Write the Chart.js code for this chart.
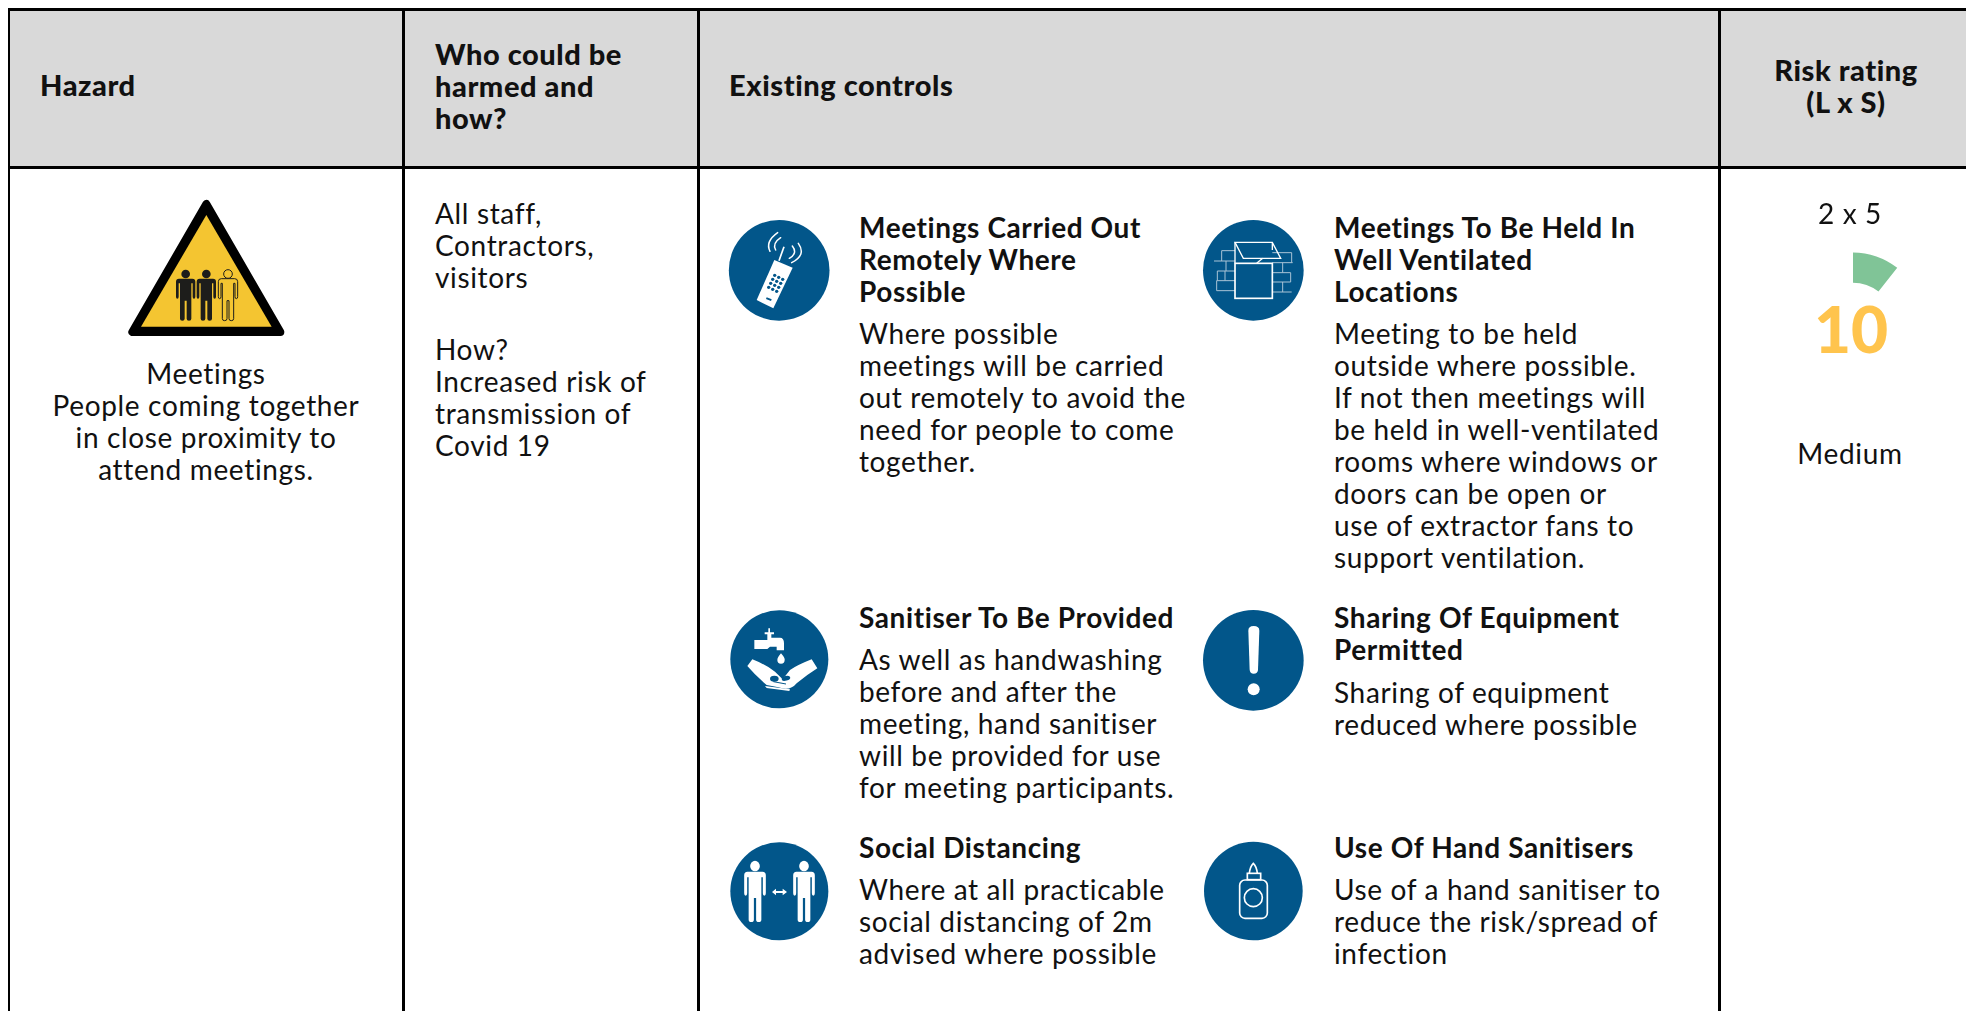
<!DOCTYPE html>
<html lang="en">
<head>
<meta charset="UTF-8">
<title>Risk assessment</title>
<script src="https://cdn.jsdelivr.net/npm/chart.js"></script>
<style>
  html, body { margin: 0; background: #fff; }
  #page { position: relative; width: 1966px; height: 1011px; overflow: hidden; font-family: Lato, sans-serif; color: #111; }
  .line { position: absolute; background: #000; }
  .head { position: absolute; background: #d9d9d9; }
  .t { position: absolute; white-space: pre; font-size: 28px; line-height: 32px; letter-spacing: .65px; }
  .title { font-weight: 700; letter-spacing: .6px; }
  .hdr { font-weight: 900; font-size: 29px; letter-spacing: .55px; }
  .c { text-align: center; transform: translateX(-50%); }
  svg { position: absolute; }
</style>
</head>
<body>
<div id="page">
  <div class="head" style="left:9px;top:10px;width:1957px;height:157px"></div>
  <div class="line" style="left:8px;top:8px;width:1958px;height:3px"></div>
  <div class="line" style="left:8px;top:166px;width:1958px;height:3px"></div>
  <div class="line" style="left:8px;top:8px;width:2px;height:1003px"></div>
  <div class="line" style="left:402px;top:8px;width:3px;height:1003px"></div>
  <div class="line" style="left:697px;top:8px;width:3px;height:1003px"></div>
  <div class="line" style="left:1718px;top:8px;width:3px;height:1003px"></div>

  <!-- Hazard sign -->
  <svg style="left:100px;top:180px" width="220" height="180" viewBox="0 0 660 540">
    <polygon points="319,72 97,456 541,456" fill="#000" stroke="#000" stroke-width="24" stroke-linejoin="round"/>
    <polygon points="319,105 123,440 515,440" fill="#f4c531"/>
    <g fill="#1d1d1b">
      <g transform="translate(257,296)"><circle cy="-14" r="13"/><path id="man" d="M-20,0 H20 Q29,0 29,9 V54 Q29,60 25,60 Q21,60 21,54 V14 H17 V120 Q17,126 10,126 Q3,126 3,120 V66 H-3 V120 Q-3,126 -10,126 Q-17,126 -17,120 V14 H-21 V54 Q-21,60 -25,60 Q-29,60 -29,54 V9 Q-29,0 -20,0Z"/></g>
      <g transform="translate(319,296)"><circle cy="-14" r="13"/><use href="#man"/></g>
    </g>
    <g transform="translate(384,296)" fill="#f4c531" stroke="#1d1d1b" stroke-width="3"><circle cy="-14" r="13"/><use href="#man"/></g>
  </svg>

  <!-- Phone icon -->
  <svg style="left:710px;top:200px" width="130" height="130" viewBox="0 0 390 390">
    <circle cx="207.5" cy="211" r="151" fill="#02568a"/>
    <polygon points="193,180 248,203 190,325 140,300" fill="#fff"/>
    <path d="M207,182 L222,140" stroke="#fff" stroke-width="5"/>
    <g fill="none" stroke="#fff" stroke-width="4.5" stroke-linecap="round">
      <path d="M203,98 Q165,125 180,154"/>
      <path d="M212,113 Q186,130 197,150"/>
      <path d="M265,130 Q290,165 245,188"/>
      <path d="M247,138 Q264,160 238,175"/>
    </g>
    <g fill="#02568a">
      <circle cx="194" cy="226" r="5"/><circle cx="206" cy="232" r="5"/><circle cx="218" cy="238" r="5"/>
      <circle cx="188" cy="238" r="5"/><circle cx="200" cy="244" r="5"/><circle cx="212" cy="250" r="5"/>
      <circle cx="182" cy="250" r="5"/><circle cx="194" cy="256" r="5"/><circle cx="206" cy="262" r="5"/>
      <circle cx="176" cy="262" r="5"/><circle cx="188" cy="268" r="5"/><circle cx="200" cy="274" r="5"/>
      <polygon points="170,292 185,298 183,303 168,297"/>
    </g>
  </svg>

  <!-- Window icon -->
  <svg style="left:1190px;top:210px" width="130" height="120" viewBox="0 0 390 360">
    <circle cx="190" cy="181" r="151" fill="#02568a"/>
    <g fill="none" stroke="#a9c4d6" stroke-width="3">
      <path d="M95,122 H135 M72,153 H135 M82,183 H135 M80,212 H135 M80,242 H135 M95,122 V153 M108,153 V183 M82,183 V212 M105,183 V212 M80,212 V242"/>
      <path d="M247,128 H305 M247,158 H308 M247,188 H302 M247,216 H302 M247,246 H305 M305,128 V158 M278,158 V188 M302,188 V216 M278,216 V246"/>
    </g>
    <g fill="none" stroke="#fff" stroke-width="4">
      <rect x="135" y="160" width="112" height="105" stroke-width="5"/>
      <polygon points="135,97 247,97 272,145 160,145"/>
      <path d="M200,160 L218,145"/>
      <path d="M135,97 V160 M247,97 V120"/>
    </g>
  </svg>

  <!-- Hand washing icon -->
  <svg style="left:710px;top:600px" width="130" height="110" viewBox="0 0 390 330">
    <circle cx="208" cy="178" r="147" fill="#02568a"/>
    <g fill="#fff">
      <path d="M133,120 H172 V103 H164 V97 H175 V85 H180 V97 H192 V103 H184 V113 H210 Q222,113 222,130 V151 H200 V140 H180 L172,147 H133Z"/>
      <path d="M213,160 Q226,175 224,180 A11,11 0 0 1 202,180 Q202,172 213,160Z"/>
      <path d="M112,198 L127,178 Q170,195 195,215 L218,238 L240,210 Q262,195 305,178 L322,205 Q290,225 260,250 Q240,275 205,262 L170,255 Q135,225 112,198Z"/>
      <path d="M165,258 L240,268 L238,273 L170,264Z"/>
    </g>
    <g fill="#02568a">
      <ellipse cx="193" cy="236" rx="13" ry="9"/>
      <ellipse cx="228" cy="235" rx="13" ry="7" transform="rotate(-15 228 235)"/>
      <path d="M190,245 L228,252" stroke="#02568a" stroke-width="3"/>
    </g>
  </svg>

  <!-- Social distancing icon -->
  <svg style="left:710px;top:830px" width="130" height="120" viewBox="0 0 390 360">
    <circle cx="208" cy="184" r="147" fill="#02568a"/>
    <g fill="#fff">
      <g transform="translate(135,125) scale(1.12,1.2)"><circle cy="-14" r="13"/><use href="#man"/></g>
      <g transform="translate(282,125) scale(1.12,1.2)"><circle cy="-14" r="13"/><use href="#man"/></g>
    </g>
    <path d="M186,186 L198,176 V183 H218 V176 L231,186 L218,196 V189 H198 V196Z" fill="#fff"/>
  </svg>

  <!-- Exclamation and bottle icons -->
  <svg style="left:1190px;top:600px" width="130" height="350" viewBox="0 0 390 1050">
    <circle cx="190" cy="181" r="151" fill="#02568a"/>
    <path d="M175,92 Q175,78 191,78 Q208,78 208,92 L204,210 Q203,221 191,221 Q180,221 179,210Z" fill="#fff"/>
    <circle cx="191" cy="268" r="18" fill="#fff"/>
    <circle cx="190" cy="873" r="148" fill="#02568a"/>
    <g fill="none" stroke="#fff" stroke-width="5">
      <rect x="149" y="840" width="83" height="115" rx="16"/>
      <circle cx="190" cy="893" r="27"/>
      <rect x="172" y="820" width="40" height="19"/>
      <path d="M178,820 Q180,800 190,790 Q200,800 202,820"/>
    </g>
  </svg>

  <!-- Risk rating gauge -->
  <canvas id="gauge" width="144" height="144" style="position:absolute;left:1781px;top:252px"></canvas>
  <div id="score" class="t c" style="left:1851px;top:290px;font-size:64px;line-height:78px;font-weight:900;letter-spacing:0;color:#ffc44d"></div>
  <div id="texts"></div>
</div>

<script>
  // gauge: visible slice, then the rest of the circle left blank
  const gaugeValues = [10, 84.2];
  const gaugeColors = ['#80c497', 'rgba(0,0,0,0)'];
  const scoreText = '10';

  const headers = [
    ['Hazard', 40, 69, false],
    ['Who could be\nharmed and\nhow?', 435, 38, false],
    ['Existing controls', 729, 69, false],
    ['Risk rating\n(L x S)', 1846, 54, true]
  ];

  const bodyTexts = [
    ['Meetings\nPeople coming together\nin close proximity to\nattend meetings.', 206, 357, true],
    ['All staff,\nContractors,\nvisitors', 435, 197, false],
    ['How?\nIncreased risk of\ntransmission of\nCovid 19', 435, 333, false],
    ['2 x 5', 1850, 197, true],
    ['Medium', 1850, 437, true]
  ];

  const controls = [
    ['Meetings Carried Out\nRemotely Where\nPossible', 859, 211, 'Where possible\nmeetings will be carried\nout remotely to avoid the\nneed for people to come\ntogether.', 317],
    ['Meetings To Be Held In\nWell Ventilated\nLocations', 1334, 211, 'Meeting to be held\noutside where possible.\nIf not then meetings will\nbe held in well-ventilated\nrooms where windows or\ndoors can be open or\nuse of extractor fans to\nsupport ventilation.', 317],
    ['Sanitiser To Be Provided', 859, 601, 'As well as handwashing\nbefore and after the\nmeeting, hand sanitiser\nwill be provided for use\nfor meeting participants.', 643],
    ['Sharing Of Equipment\nPermitted', 1334, 601, 'Sharing of equipment\nreduced where possible', 676],
    ['Social Distancing', 859, 831, 'Where at all practicable\nsocial distancing of 2m\nadvised where possible', 873],
    ['Use Of Hand Sanitisers', 1334, 831, 'Use of a hand sanitiser to\nreduce the risk/spread of\ninfection', 873]
  ];

  const box = document.getElementById('texts');
  function addText(text, x, y, cls) {
    const d = document.createElement('div');
    d.className = 't ' + cls;
    d.style.left = x + 'px';
    d.style.top = y + 'px';
    d.textContent = text;
    box.appendChild(d);
  }

  headers.forEach(h => addText(h[0], h[1], h[2], 'hdr' + (h[3] ? ' c' : '')));
  bodyTexts.forEach(b => addText(b[0], b[1], b[2], b[3] ? 'c' : ''));
  controls.forEach(c => {
    addText(c[0], c[1], c[2], 'title');
    addText(c[3], c[1], c[4], '');
  });
  document.getElementById('score').textContent = scoreText;

  new Chart(document.getElementById('gauge'), {
    type: 'doughnut',
    data: {
      labels: ['Score', ''],
      datasets: [{ data: gaugeValues, backgroundColor: gaugeColors, borderWidth: 0 }]
    },
    options: {
      responsive: false,
      animation: false,
      radius: 71.5,
      cutout: 41.5,
      layout: { padding: 0 },
      plugins: { legend: { display: false }, tooltip: { enabled: false } }
    }
  });
</script>
</body>
</html>
